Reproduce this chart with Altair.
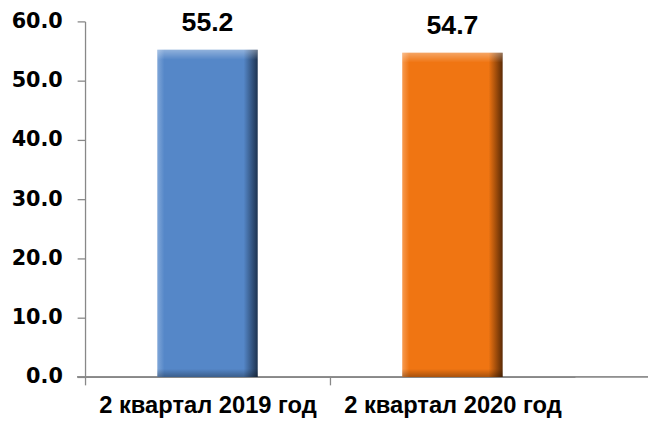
import altair as alt
import pandas as pd

categories = ["2 квартал 2019 год", "2 квартал 2020 год"]
values = [55.2, 54.7]
labels = ["55.2", "54.7"]
base_colors = ["#5587C8", "#F07512"]
dark_colors = ["#1E3350", "#5A2A05"]
light_colors = ["#7FA6D8", "#F79A4F"]

df = pd.DataFrame({"cat": categories, "val": values, "lab": labels})

xscale = alt.Scale(domain=categories, paddingInner=0.59, paddingOuter=0.295)
yscale = alt.Scale(domain=[0, 60])

x_enc = alt.X("cat:N", scale=xscale, sort=categories, title=None,
              axis=alt.Axis(labelAngle=0, labelFont="Liberation Sans", labelFontSize=24,
                            labelFontWeight="bold", labelColor="#000000", labelPadding=9,
                            labelLimit=0, labelOffset=124, domainColor="#888888",
                            tickColor="#888888", tickSize=8, tickBand="center", tickOffset=-124,
                            domainWidth=1.3, tickWidth=1.3))
y_enc = alt.Y("val:Q", scale=yscale, title=None,
              axis=alt.Axis(values=[0, 10, 20, 30, 40, 50, 60], format=".1f", grid=False,
                            labelFont="DejaVu Sans", labelFontSize=21, labelFontWeight="bold",
                            labelColor="#000000", labelPadding=15, domainColor="#888888",
                            tickColor="#888888", tickSize=8, domainWidth=1.3, tickWidth=1.3))

# x axis line continues to the right edge, as in the reference
axis_ext = alt.Chart(df).mark_rule(color="#888888", strokeWidth=1.3).encode(
    x=alt.value(-8), x2=alt.value(570), y=alt.value(360)
)

layers = []
for i, c in enumerate(categories):
    grad = alt.Gradient(gradient="linear", x1=0, x2=1, y1=0, y2=0, stops=[
        alt.GradientStop(color=light_colors[i], offset=0),
        alt.GradientStop(color=base_colors[i], offset=0.07),
        alt.GradientStop(color=base_colors[i], offset=0.86),
        alt.GradientStop(color=dark_colors[i], offset=1),
    ])
    layers.append(
        alt.Chart(df).transform_filter(alt.datum.cat == c)
        .mark_bar(fill=grad)
        .encode(x=x_enc, y=y_enc)
    )

# bevel shading: light top edge, dark bottom edge
bevel = alt.Gradient(gradient="linear", x1=0, x2=0, y1=0, y2=1, stops=[
    alt.GradientStop(color="rgba(255,255,255,0.35)", offset=0),
    alt.GradientStop(color="rgba(255,255,255,0)", offset=0.03),
    alt.GradientStop(color="rgba(0,0,0,0)", offset=0.975),
    alt.GradientStop(color="rgba(0,0,0,0.3)", offset=1),
])
bevel_layer = alt.Chart(df).mark_bar(fill=bevel).encode(x=x_enc, y=y_enc)

text = alt.Chart(df).mark_text(font="Liberation Sans", fontSize=27, fontWeight="bold",
                               color="#000000", baseline="alphabetic", dy=-19).encode(
    x=alt.X("cat:N", scale=xscale, sort=categories),
    y=alt.Y("val:Q", scale=yscale),
    text="lab:N",
)

chart = alt.layer(axis_ext, *layers, bevel_layer, text).properties(
    width=496, height=360,
    autosize=alt.AutoSizeParams(type="none"),
    padding={"left": 78, "top": 11, "right": 74, "bottom": 40},
    background="#FFFFFF",
).configure_view(stroke=None, strokeWidth=0)

chart.save("out.html", embed_options={"renderer": "svg", "actions": False})
